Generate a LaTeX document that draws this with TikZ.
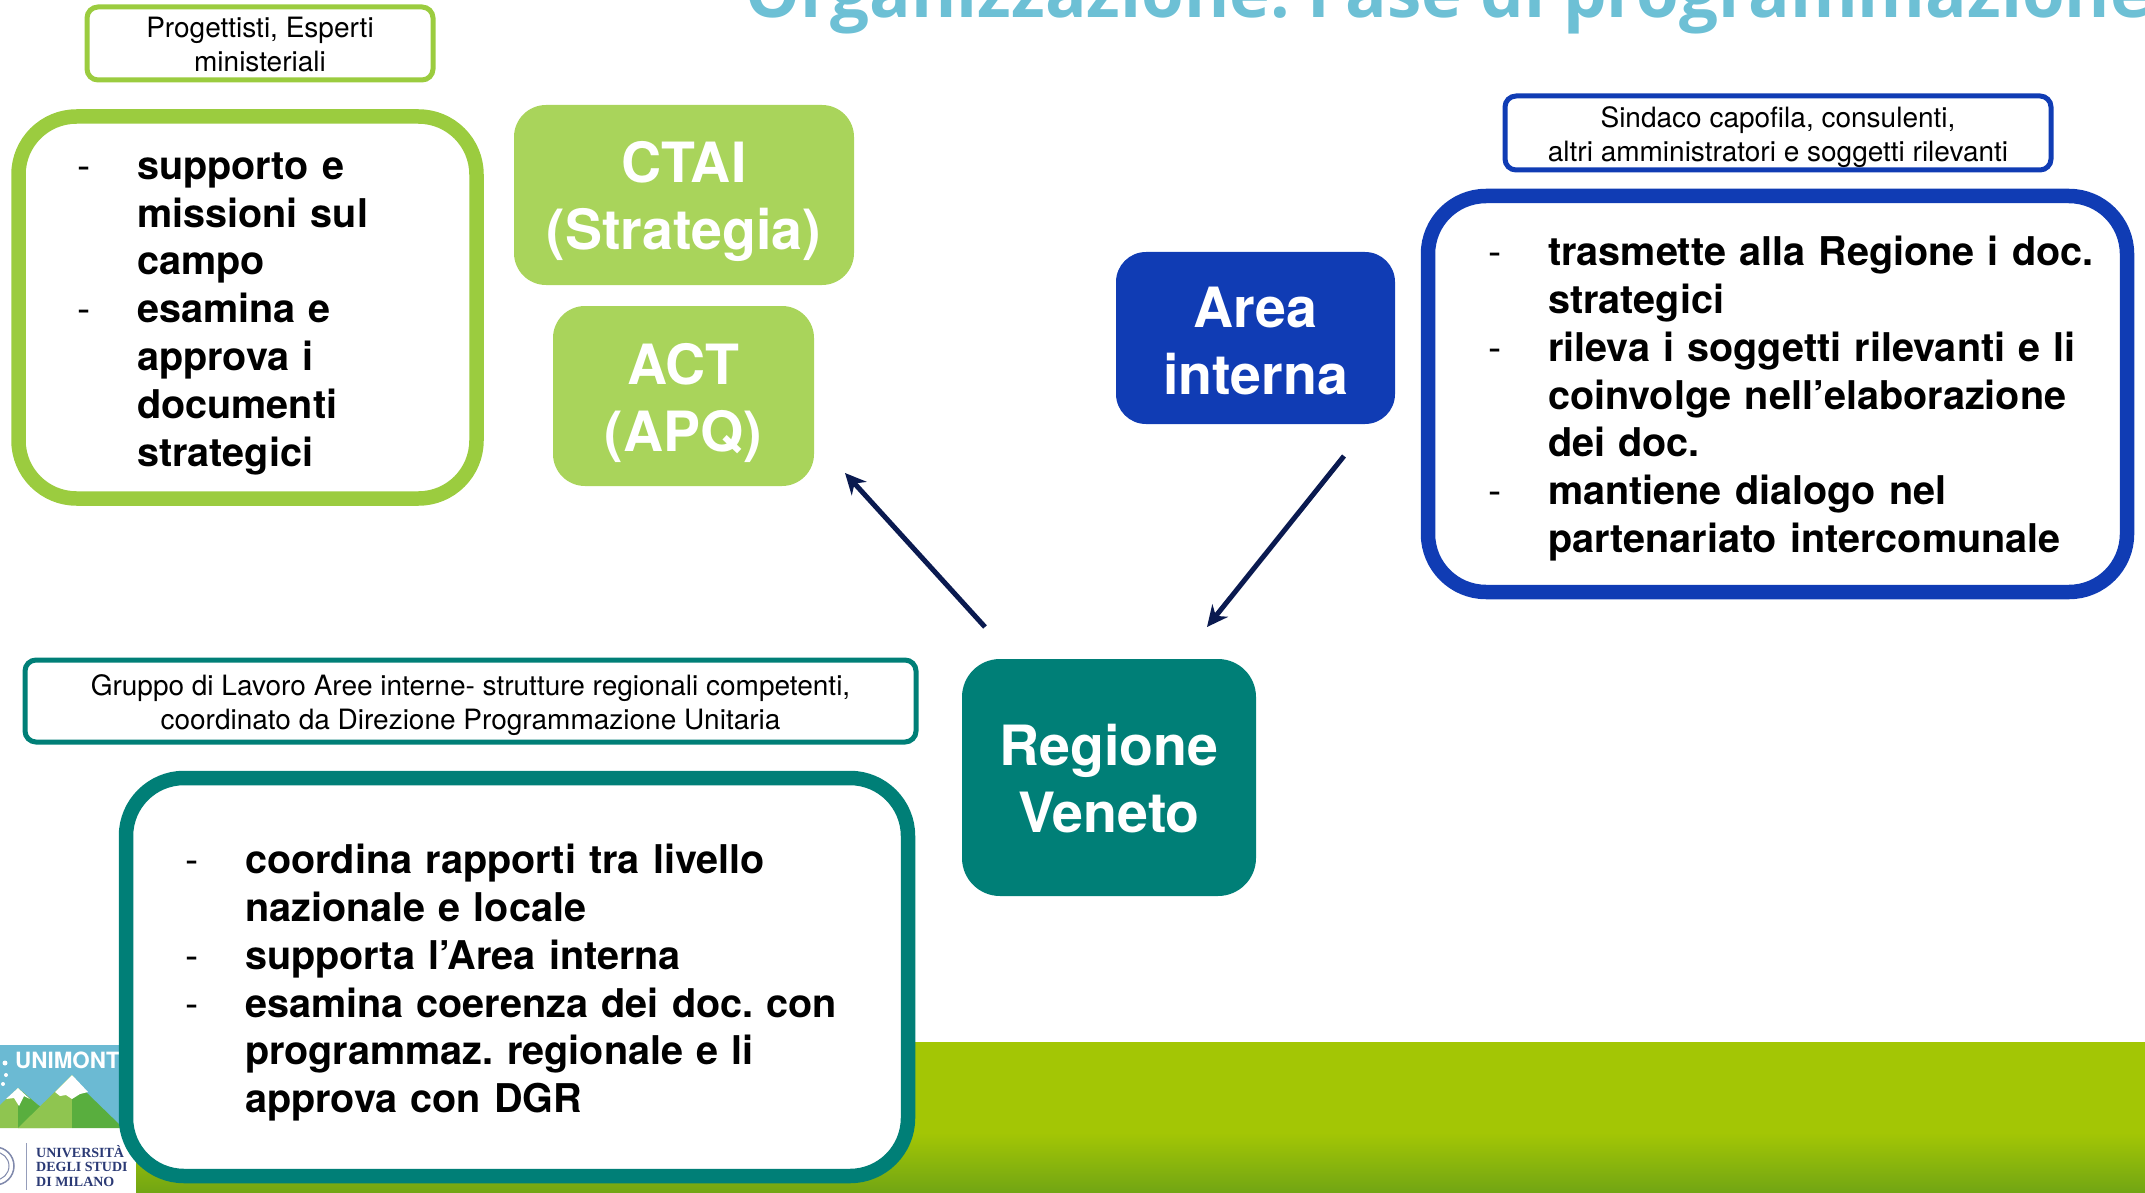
\documentclass[tikz,border=0pt]{standalone}
\usepackage{fontspec}
\setmainfont{TeX Gyre Heros}
\newfontfamily\titlefont{Open Sans}
\newfontfamily\logoserif{Liberation Serif}
\usetikzlibrary{arrows.meta}
\definecolor{lime}{HTML}{A9D45B}
\definecolor{limeline}{HTML}{9BCC3F}
\definecolor{bluebox}{HTML}{103CB4}
\definecolor{tealbox}{HTML}{007F77}
\definecolor{titleblue}{HTML}{6DC0D5}
\definecolor{arrownavy}{HTML}{0A1A50}
\definecolor{bandgreen}{HTML}{A3C605}
\definecolor{bandbottom}{HTML}{71A514}
\definecolor{sky}{HTML}{6BBAD3}
\definecolor{milano}{HTML}{2B3A75}
\definecolor{mountlight}{HTML}{8FC550}
\definecolor{mountdark}{HTML}{59AE3E}
\frenchspacing
\newcommand{\itm}[1]{\makebox[\linewidth][l]{\makebox[60pt][l]{\mdseries -}#1}}
\newcommand{\cnt}[1]{\makebox[\linewidth][l]{\hspace*{60pt}#1}}
\newcommand{\lowered}[1]{\rule{0pt}{#1pt}}
\tikzset{
  head/.style={fill=#1,text=white,rounded corners=32pt,inner sep=0pt,outer sep=0pt,align=center,
    font=\fontsize{55.5}{67}\selectfont\bfseries},
  caption/.style={draw=#1,line width=5pt,fill=white,rounded corners=11pt,inner sep=0pt,align=center,text=black,
    font=\fontsize{28}{34}\selectfont},
  listbox/.style={draw=#1,line width=14.5pt,fill=white,rounded corners=58pt,inner ysep=0pt,align=left,text=black,
    font=\fontsize{39.6}{47.8}\selectfont\bfseries},
  flow/.style={draw=arrownavy,line width=5pt,-{Stealth[length=21pt,width=20pt]}}
}
\begin{document}
\begin{tikzpicture}[x=1pt,y=-1pt]
\useasboundingbox (0,0) rectangle (2145,1193);
% footer band
\fill[bandgreen] (136,1042) rectangle (2145,1133);
\shade[top color=bandgreen,bottom color=bandbottom] (136,1133) rectangle (2145,1193);
% logo
\fill[sky] (0,1045) rectangle (125,1128);
\fill[white] (0,1128) rectangle (136,1193);
\fill[mountlight] (0,1105) -- (18,1088) -- (38,1105) -- (50,1128) -- (0,1128) -- cycle;
\fill[mountdark] (18,1088) -- (38,1105) -- (50,1112) -- (18,1128) -- cycle;
\fill[white] (6,1099) -- (18,1088) -- (30,1099) -- (24,1096) -- (19,1106) -- (14,1098) -- cycle;
\fill[mountlight] (18,1128) -- (72,1075) -- (72,1128) -- cycle;
\fill[mountdark] (72,1075) -- (87,1093) -- (120,1125) -- (120,1128) -- (72,1128) -- cycle;
\fill[white] (55,1092) -- (72,1075) -- (88,1092) -- (80,1094) -- (72,1099) -- (66,1095) -- (60,1096) -- cycle;
\fill[white] (5,1063) circle (2.5pt) (6,1075) circle (2pt) (3,1084) circle (2pt);
\node[anchor=base west,inner sep=0pt,text=white,font=\fontsize{22.4}{23}\selectfont\bfseries] (unimont) at (15,1068) {UNIMONT};
\draw[milano!60,line width=1.5pt] (-5,1166) circle (19pt);
\draw[milano!60,line width=1pt] (-5,1166) circle (14pt);
\draw[milano!50,line width=1pt] (26,1143) -- (26,1190);
\node[anchor=north west,inner sep=0pt,align=left,text=milano,font=\fontsize{14}{14.5}\selectfont\logoserif\bfseries] (unimi) at (36,1145) {UNIVERSITÀ\\DEGLI STUDI\\DI MILANO};
% title
\node[anchor=base west,inner sep=0pt,text=titleblue,font=\fontsize{69}{70}\selectfont\titlefont\bfseries] (title) at (745,18) {Organizzazione: Fase di programmazione};
% arrows
\coordinate (a1s) at (985,627);
\coordinate (a1e) at (845,473);
\coordinate (a2s) at (1344,456);
\coordinate (a2e) at (1207,627);
% green group
\node[caption=limeline,minimum width=346pt,minimum height=73pt] (clabel) at (260,43.5) {\lowered{23}Progettisti, Esperti\\ministeriali};
\node[listbox=limeline,minimum width=458pt,minimum height=382pt,text width=341pt,inner xsep=58.5pt] (clist) at (247.5,307.5) {%
\lowered{39}\itm{supporto e}\\\cnt{missioni sul}\\\cnt{campo}\\\itm{esamina e}\\\cnt{approva i}\\\cnt{documenti}\\\cnt{strategici}};
\node[head=lime,minimum width=340pt,minimum height=180pt] (ctai) at (684,195) {\lowered{55}CTAI\\(Strategia)};
\node[head=lime,minimum width=261pt,minimum height=180pt] (act) at (683.5,396) {\lowered{56}ACT\\(APQ)};
% blue group
\node[head=bluebox,minimum width=279pt,minimum height=172pt,rounded corners=30pt] (area) at (1255.5,338) {\lowered{46}Area\\interna};
\node[caption=bluebox,minimum width=546pt,minimum height=74pt] (alabel) at (1778,133) {\lowered{29}Sindaco capofila, consulenti,\\altri amministratori e soggetti rilevanti};
\node[listbox=bluebox,minimum width=699pt,minimum height=396pt,text width=579pt,inner xsep=60pt] (alist) at (1777.5,394) {%
\lowered{39}\itm{trasmette alla Regione i doc.}\\\cnt{strategici}\\\itm{rileva i soggetti rilevanti e li}\\\cnt{coinvolge nell’elaborazione}\\\cnt{dei doc.}\\\itm{mantiene dialogo nel}\\\cnt{partenariato intercomunale}};
% teal group
\node[head=tealbox,minimum width=294pt,minimum height=237pt,rounded corners=38pt] (regione) at (1109,777.5) {\lowered{43}Regione\\Veneto};
\node[caption=tealbox,minimum width=891pt,minimum height=82pt] (rlabel) at (470.5,701) {\lowered{29}Gruppo di Lavoro Aree interne- strutture regionali competenti,\\coordinato da Direzione Programmazione Unitaria};
\node[listbox=tealbox,minimum width=782pt,minimum height=398pt,text width=664pt,inner xsep=59pt] (rlist) at (517,977) {%
\lowered{41}\itm{coordina rapporti tra livello}\\\cnt{nazionale e locale}\\\itm{supporta l’Area interna}\\\itm{esamina coerenza dei doc. con}\\\cnt{programmaz. regionale e li}\\\cnt{approva con DGR}};
\draw[flow] (a1s) -- (a1e);
\draw[flow] (a2s) -- (a2e);
\end{tikzpicture}
\end{document}
